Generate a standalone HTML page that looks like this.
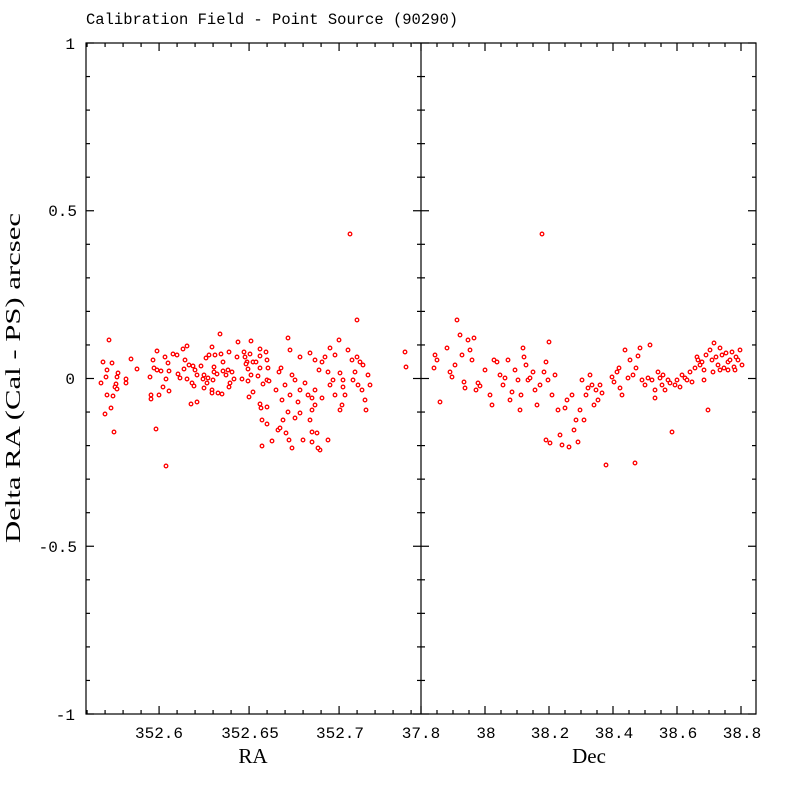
<!DOCTYPE html>
<html><head><meta charset="utf-8"><style>body{margin:0;background:#fff}svg{display:block}</style></head>
<body>
<svg id="s" width="800" height="800" xmlns="http://www.w3.org/2000/svg">
<rect width="800" height="800" fill="#fff"/>
<text x="86" y="24" font-family="Liberation Mono, monospace" font-size="15.5" fill="#000">Calibration Field - Point Source (90290)</text>
<g id="ax" stroke="#000" stroke-width="1.2" fill="none">
<rect x="86" y="43" width="670" height="671"/>
<line x1="421" y1="43" x2="421" y2="714"/>
</g>
<g font-family="Liberation Mono, monospace" font-size="16" fill="#000" text-anchor="end">
<text x="75" y="49">1</text>
<text x="77" y="216">0.5</text>
<text x="75" y="384">0</text>
<text x="77" y="552">-0.5</text>
<text x="75" y="720">-1</text>
</g>
<g font-family="Liberation Mono, monospace" font-size="16" fill="#000" text-anchor="middle">
<text x="159" y="738">352.6</text>
<text x="250" y="738">352.65</text>
<text x="340" y="738">352.7</text>
<text x="421" y="738">37.8</text>
<text x="486" y="738">38</text>
<text x="550" y="738">38.2</text>
<text x="614" y="738">38.4</text>
<text x="678" y="738">38.6</text>
<text x="742" y="738">38.8</text>
</g>
<text x="253" y="763" font-family="Liberation Serif, serif" font-size="21" text-anchor="middle">RA</text>
<text x="589" y="763" font-family="Liberation Serif, serif" font-size="21" text-anchor="middle">Dec</text>
<text transform="translate(20,378) rotate(-90)" font-family="Liberation Serif, serif" font-size="21" text-anchor="middle" textLength="330" lengthAdjust="spacingAndGlyphs">Delta RA (Cal - PS) arcsec</text>
<g id="pts" stroke="#f00" stroke-width="1.3" fill="#fff"></g>
</svg>
<script>
var NS="http://www.w3.org/2000/svg",ax=document.getElementById("ax");
function L(a,b,c,d){var l=document.createElementNS(NS,"line");l.setAttribute("x1",a);l.setAttribute("y1",b);l.setAttribute("x2",c);l.setAttribute("y2",d);ax.appendChild(l);}
// y ticks
for(var i=-10;i<=10;i++){var y=378.5-i*33.55,len=(i%5==0)?8:4;
L(86,y,86+len,y);L(756,y,756-len,y);L(421-len,y,421+len,y);}
// left x ticks
for(var i=0;i<=19;i++){var v=352.56+i*0.01,x=86+(v-352.5594)*1800;if(x<86||x>421)continue;
var len=(Math.round(v*100)%5==0)?8:4;L(x,714,x,714-len);L(x,43,x,43+len);}
// right x ticks
for(var i=0;i<=21;i++){var v=37.8+i*0.05,x=421+(v-37.8)*320;if(x>756)continue;
var len=(i%4==0)?8:4;L(x,714,x,714-len);L(x,43,x,43+len);}
var P=[109,340,103,362,112,363,107,370,118,373,106,377,117,377,101,383,116,384,115,387,117,389,107,395,113,396,111,408,105,414,114,432,126,379,126,383,131,359,137,369,150,377,151,395,151,399,159,395,156,429,166,466,157,351,153,360,154,368,157,370,161,371,165,357,168,363,169,371,166,379,163,387,169,391,173,354,177,355,178,374,180,378,183,349,187,346,185,360,189,365,184,369,187,379,193,366,195,370,192,383,194,386,197,375,201,366,204,375,208,378,203,379,207,383,204,388,212,390,212,393,218,393,222,394,191,404,197,402,206,358,209,355,212,347,215,355,214,367,214,372,217,374,213,380,220,334,221,354,223,362,223,371,226,375,229,352,228,370,232,372,230,383,229,387,234,379,237,357,238,342,242,379,244,352,245,357,247,362,246,364,248,369,248,381,250,354,251,341,251,375,253,362,256,362,253,392,249,397,260,349,260,356,266,352,267,360,260,368,268,368,258,376,263,384,267,380,269,381,276,390,279,372,260,404,261,408,267,407,262,420,267,424,278,430,272,441,262,446,
288,338,290,350,300,357,310,353,315,360,281,368,292,375,285,385,295,380,305,383,300,390,282,400,290,395,298,402,288,412,283,420,295,418,280,428,286,433,289,440,292,448,300,413,303,440,312,398,315,405,310,420,317,433,312,442,320,450,319,370,322,362,325,357,330,348,335,355,328,372,333,380,340,373,343,380,339,340,335,395,342,405,345,395,340,410,350,234,357,320,355,372,353,380,358,385,357,357,360,362,348,350,352,360,362,390,365,400,366,410,368,375,370,385,363,365,405,352,406,367,343,387,330,385,315,390,322,398,308,395,312,410,318,448,328,440,312,432,
435,355,437,360,434,368,440,402,447,348,450,372,452,377,455,365,457,320,460,335,462,355,464,382,465,388,468,340,470,350,472,360,474,338,476,390,478,383,480,386,485,370,490,395,492,405,494,360,497,362,500,375,503,385,505,378,508,360,510,400,512,392,515,370,518,380,520,410,521,395,523,348,524,357,526,365,528,380,530,378,533,372,537,405,535,390,540,385,542,234,544,372,546,362,548,380,549,342,552,395,546,440,550,443,555,375,558,410,560,435,562,445,565,408,567,400,569,447,572,395,574,430,576,420,578,442,580,410,582,380,584,420,586,395,588,388,590,375,592,385,594,405,596,390,598,400,600,385,602,393,606,465,612,377,614,382,617,372,619,368,620,388,622,395,625,350,628,378,630,360,633,375,635,463,636,368,638,356,640,348,642,380,645,385,648,378,650,345,652,380,655,390,658,372,660,378,662,385,665,390,668,380,670,383,672,432,675,385,677,380,680,387,682,375,685,378,687,380,690,372,692,382,695,368,697,357,698,360,700,365,702,362,704,370,706,355,708,410,710,350,712,360,714,343,716,357,718,365,720,348,722,355,724,368,726,353,728,362,730,360,732,352,734,367,736,357,738,360,740,350,742,365,735,370,728,370,720,370,713,372,704,380,663,375,655,398];
var g=document.getElementById("pts");
for(var i=0;i<P.length;i+=2){var c=document.createElementNS(NS,"circle");c.setAttribute("cx",P[i]);c.setAttribute("cy",P[i+1]);c.setAttribute("r",1.8);g.appendChild(c);}
</script>
</body></html>
